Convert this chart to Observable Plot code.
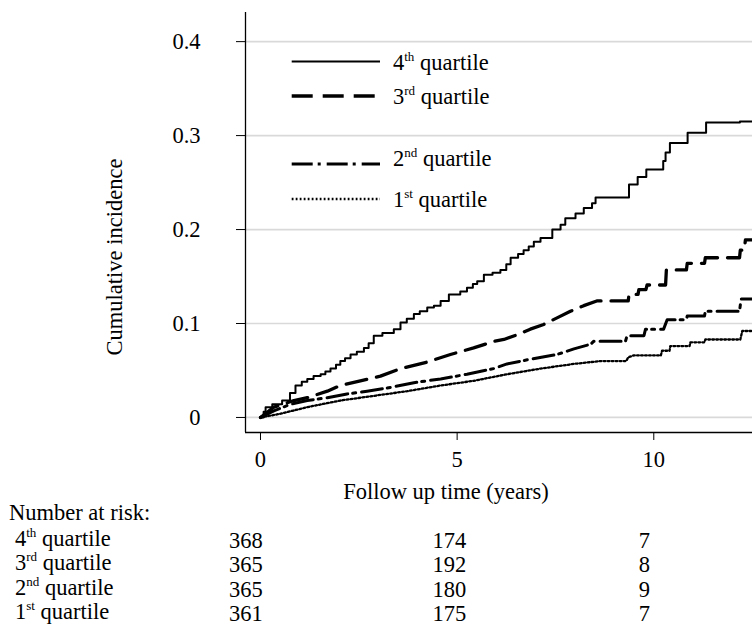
<!DOCTYPE html>
<html><head><meta charset="utf-8">
<script src="https://cdn.jsdelivr.net/npm/d3@7"></script>
<script src="https://cdn.jsdelivr.net/npm/@observablehq/plot@0.6"></script>
<style>body{margin:0;background:#fff}</style>
</head><body><div id="chart"></div>
<script>
// ---- data (time in years, cumulative incidence) ----
const q4 = [[0,0],[0.08,.006],[0.13,.011],[0.30,.014],[0.55,.018],[0.75,.026],[0.89,.034],[1.05,.038],[1.19,.041],[1.35,.044],[1.53,.046],[1.65,.049],[1.78,.052],[1.92,.056],[2.03,.060],[2.15,.063],[2.29,.067],[2.45,.070],[2.63,.074],[2.75,.079],[2.88,.087],[3.10,.090],[3.39,.094],[3.56,.101],[3.72,.105],[3.90,.110],[4.05,.113],[4.24,.117],[4.41,.119],[4.58,.124],[4.79,.131],[5.08,.134],[5.25,.138],[5.40,.142],[5.51,.145],[5.68,.152],[5.90,.154],[6.10,.157],[6.25,.163],[6.36,.170],[6.55,.174],[6.69,.178],[6.82,.182],[6.95,.187],[7.12,.191],[7.42,.200],[7.63,.205],[7.75,.212],[8.01,.217],[8.22,.223],[8.43,.228],[8.52,.234],[9.37,.248],[9.59,.256],[9.81,.264],[10.24,.273],[10.30,.282],[10.41,.292],[10.86,.303],[11.33,.314],[12.19,.315],[12.7,.316]];
const q3 = [[0,0],[0.34,.011],[0.85,.018],[1.19,.021],[1.70,.028],[2.03,.034],[2.54,.039],[3.05,.044],[3.56,.052],[4.24,.059],[4.83,.067],[5.42,.074],[5.93,.081],[6.19,.083],[6.53,.088],[6.86,.094],[7.20,.099],[7.54,.106],[7.88,.113],[8.22,.119],[8.55,.124],[9.35,.124],[9.37,.131],[9.60,.131],[9.62,.136],[9.80,.136],[9.83,.141],[10.30,.141],[10.32,.157],[10.83,.157],[10.85,.164],[11.29,.164],[11.31,.170],[12.18,.170],[12.20,.178],[12.30,.178],[12.33,.189],[12.7,.189]];
const q2 = [[0,0],[0.34,.007],[0.76,.014],[1.19,.018],[1.70,.021],[2.20,.025],[2.71,.028],[3.31,.032],[3.90,.037],[4.58,.041],[5.25,.046],[5.93,.052],[6.27,.057],[6.86,.062],[7.54,.067],[7.97,.073],[8.40,.078],[8.47,.081],[9.28,.081],[9.32,.087],[9.75,.087],[9.79,.094],[10.25,.094],[10.34,.104],[10.83,.104],[10.85,.108],[11.29,.108],[11.31,.113],[12.18,.113],[12.22,.126],[12.7,.126]];
const q1 = [[0,0],[0.51,.004],[1.19,.011],[2.03,.018],[2.88,.023],[3.73,.028],[4.58,.034],[5.42,.039],[6.27,.046],[7.12,.052],[7.97,.057],[8.64,.060],[9.30,.060],[9.35,.064],[9.49,.066],[10.18,.066],[10.21,.071],[10.40,.071],[10.42,.076],[10.91,.076],[10.93,.080],[11.29,.080],[11.31,.083],[12.20,.083],[12.25,.092],[12.7,.092]];

const quartileNums = ["4","3","2","1"];
const quartileSups = ["th","rd","nd","st"];
const xTicks = [0, 5, 10];
const yTicks = [0, 0.1, 0.2, 0.3, 0.4];
const riskTimes = [0, 5, 10];
const risk4 = [368, 174, 7];
const risk3 = [365, 192, 8];
const risk2 = [365, 180, 9];
const risk1 = [361, 175, 7];

// ---- styles ----
const FONT = "'Liberation Serif','Times New Roman',serif";
const FS = 22.5;
const styles = [
  {strokeWidth: 2, strokeDasharray: null},
  {strokeWidth: 3.3, strokeDasharray: "21,10"},
  {strokeWidth: 3, strokeDasharray: "21,5,3,6"},
  {strokeWidth: 2.3, strokeDasharray: "1.8,2.2"}
];
const colDx = [-14.5, -7.7, -9.3];

const riskCols = riskTimes.map((t, j) => ({t, label: [risk4[j], risk3[j], risk2[j], risk1[j]].join("\n")}));
const xDomain = [-0.381, 12.51];
const yDomain = [-0.016, 0.431];

const series = [q4, q3, q2, q1];
const curveMarks = series.map((s, i) => Plot.line(s, {
  x: d => d[0], y: d => d[1],
  curve: i === 0 ? "step-after" : "linear",
  stroke: "black", strokeWidth: styles[i].strokeWidth,
  strokeDasharray: styles[i].strokeDasharray, clip: true
}));

const chart = Plot.plot({
  width: 752, height: 625,
  marginLeft: 245, marginRight: 0, marginTop: 12, marginBottom: 193,
  style: {fontFamily: FONT, fontSize: FS + "px", background: "white", color: "black", overflow: "visible"},
  x: {domain: xDomain, ticks: xTicks, tickSize: 8, tickPadding: 11, label: null},
  y: {domain: yDomain, ticks: yTicks, tickSize: 9, tickPadding: 36, label: null,
      tickFormat: d => d === 0 ? "0" : d3.format(".1f")(d)},
  marks: [
    Plot.ruleY(yTicks, {stroke: "#d9d9d9", strokeWidth: 1.7}),
    Plot.ruleX([xDomain[0]], {stroke: "black", strokeWidth: 1.3}),
    Plot.ruleY([yDomain[0]], {stroke: "black", strokeWidth: 1.3}),
    ...curveMarks,
    ...riskCols.map((c, j) => Plot.text([c], {
      x: "t", text: "label", frameAnchor: "bottom", lineAnchor: "top",
      dy: 97.8, dx: colDx[j], lineHeight: 1.09, fontSize: FS, fill: "black"
    }))
  ]
});
document.getElementById("chart").appendChild(chart);

// ---- annotations: labels, legend, risk table row labels ----
const svg = d3.select(chart);
const g = svg.append("g").attr("font-family", FONT).attr("font-size", FS)
  .attr("fill", "black").attr("text-anchor", "start");

g.append("text").attr("transform", "translate(122,257) rotate(-90)")
  .attr("text-anchor", "middle").text("Cumulative incidence");
g.append("text").attr("x", 446).attr("y", 499).attr("text-anchor", "middle").text("Follow up time (years)");

function supLabel(parent, x, y, num, sup) {
  const t = parent.append("text").attr("x", x).attr("y", y).attr("text-anchor", "start");
  t.append("tspan").text(num);
  t.append("tspan").attr("font-size", 13).attr("dy", -9).text(sup);
  t.append("tspan").attr("dy", 9).text(" quartile");
  return t;
}

// legend
const legLineY = [61.5, 96, 164, 199];
const legTextY = [70, 103.5, 165.5, 206.5];
quartileNums.forEach((n, i) => {
  g.append("line").attr("x1", 291.7).attr("x2", 380).attr("y1", legLineY[i]).attr("y2", legLineY[i])
    .attr("stroke", "black").attr("stroke-width", styles[i].strokeWidth)
    .attr("stroke-dasharray", styles[i].strokeDasharray);
  supLabel(g, 393, legTextY[i], n, quartileSups[i]);
});

// risk table labels
g.append("text").attr("x", 9).attr("y", 520).text("Number at risk:");
const rowY = [545.5, 570, 594.5, 619];
quartileNums.forEach((n, i) => supLabel(g, 15, rowY[i], n, quartileSups[i]));
</script>
</body></html>
